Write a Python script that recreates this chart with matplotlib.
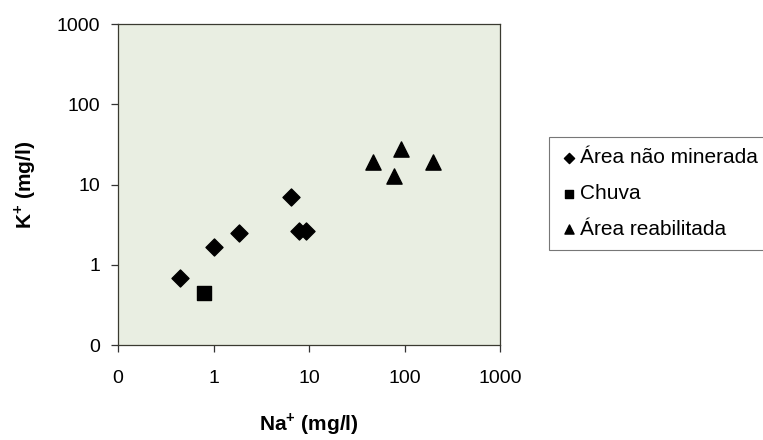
import matplotlib
matplotlib.use("Agg")
import matplotlib.pyplot as plt
from matplotlib.ticker import FixedLocator, FixedFormatter, NullLocator

plt.rcParams["font.family"] = ["Liberation Sans", "DejaVu Sans"]
plt.rcParams["mathtext.fontset"] = "custom"
plt.rcParams["mathtext.rm"] = "Liberation Sans"
plt.rcParams["mathtext.bf"] = "Liberation Sans:bold"

# Na+ vs K+ (mg/l)
nao_minerada_na = [0.45, 1.02, 1.86, 6.5, 7.8, 9.3]
nao_minerada_k = [0.69, 1.65, 2.5, 7.05, 2.65, 2.65]

chuva_na = [0.79]
chuva_k = [0.44]

reabilitada_na = [47, 77, 92, 200]
reabilitada_k = [19.2, 12.9, 27.5, 19.2]

tick_values = [0.1, 1, 10, 100, 1000]
tick_labels = ["0", "1", "10", "100", "1000"]

fig = plt.figure(figsize=(7.63, 4.40), dpi=100)
ax = fig.add_axes([0.1547, 0.2159, 0.5007, 0.7295])
ax.set_facecolor("#e9eee2")

ax.scatter(nao_minerada_na, nao_minerada_k, marker="D", s=75, color="black",
           label="Área não minerada", zorder=3)
ax.scatter(chuva_na, chuva_k, marker="s", s=110, color="black",
           label="Chuva", zorder=3)
ax.scatter(reabilitada_na, reabilitada_k, marker="^", s=120, color="black",
           label="Área reabilitada", zorder=3)

ax.set_xscale("log")
ax.set_yscale("log")
ax.set_xlim(0.1, 1000)
ax.set_ylim(0.1, 1000)
for axis in (ax.xaxis, ax.yaxis):
    axis.set_major_locator(FixedLocator(tick_values))
    axis.set_major_formatter(FixedFormatter(tick_labels))
    axis.set_minor_locator(NullLocator())

ax.tick_params(axis="both", direction="out", length=5, width=0.9,
               color="#333333", labelsize=14)
ax.tick_params(axis="x", pad=13)
ax.tick_params(axis="y", pad=8)
for spine in ax.spines.values():
    spine.set_color("#3a3a30")
    spine.set_linewidth(0.9)

ax.set_xlabel(r"Na$^{\mathbf{+}}$ (mg/l)", fontsize=15, fontweight="bold",
              labelpad=17)
ax.set_ylabel(r"K$^{\mathbf{+}}$ (mg/l)", fontsize=15, fontweight="bold",
              labelpad=13)

leg = fig.legend(loc="upper left", bbox_to_anchor=(549 / 763, 1 - 137 / 440),
                 fontsize=15, frameon=True, fancybox=False, markerscale=0.6,
                 handletextpad=0.1, handlelength=0.85, labelspacing=0.8,
                 borderpad=0.55, borderaxespad=0)
leg.get_frame().set_edgecolor("#555555")
leg.get_frame().set_linewidth(0.8)

fig.savefig("out.png", dpi=100)
